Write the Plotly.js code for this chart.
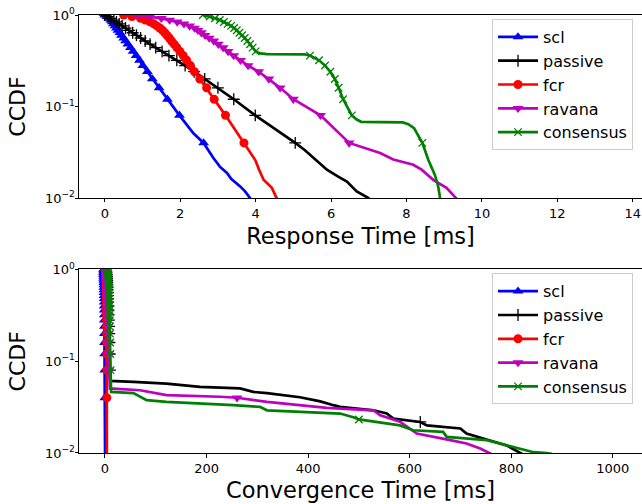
<!DOCTYPE html>
<html><head><meta charset="utf-8">
<script src="https://cdn.plot.ly/plotly-3.0.1.min.js"></script>
<style>html,body{margin:0;padding:0;background:#fff}#chart{width:642px;height:504px}</style>
</head><body><div id="chart"></div>
<script>
// ---------- labels / ticks ----------
const seriesNames = ['scl', 'passive', 'fcr', 'ravana', 'consensus'];
const yTickVals = [0.01, 0.1, 1];
const yTickText = ['10<sup>−2</sup>', '10<sup>−1</sup>', '10<sup>0</sup>'];
const yMinorTickVals = [0.02,0.03,0.04,0.05,0.06,0.07,0.08,0.09,0.2,0.3,0.4,0.5,0.6,0.7,0.8,0.9];
const rtTickVals = [0, 2, 4, 6, 8, 10, 12, 14];
const ctTickVals = [0, 200, 400, 600, 800, 1000];
const rtTitle = 'Response Time [ms]';
const ctTitle = 'Convergence Time [ms]';
const yTitle = 'CCDF';

// ---------- Response time (top) ----------
const rtSclT = [0.00,0.06,0.11,0.16,0.20,0.23,0.27,0.31,0.35,0.40,0.44,0.50,0.55,0.61,0.68,0.75,0.83,0.92,1.01,1.13,1.26,1.44,1.66,1.98,2.35,2.62,2.88,3.05,3.24,3.35,3.59,3.72,3.85,3.88];
const rtSclP = [1,0.96,0.92,0.88,0.84,0.80,0.76,0.72,0.68,0.64,0.60,0.56,0.52,0.48,0.44,0.40,0.36,0.32,0.28,0.24,0.20,0.16,0.12,0.08,0.051,0.04,0.0274,0.022,0.0188,0.0162,0.0134,0.0118,0.0100,0.0095];

const rtPassiveT = [0.00,0.08,0.16,0.24,0.31,0.38,0.46,0.55,0.64,0.74,0.84,0.95,1.07,1.20,1.35,1.52,1.70,1.91,2.13,2.37,2.65,3.00,3.42,3.99,4.56,5.05,5.30,5.53,5.70,5.89,6.20,6.42,6.68,6.85,6.99,7.02];
const rtPassiveP = [1,0.96,0.92,0.88,0.84,0.80,0.76,0.72,0.68,0.64,0.60,0.56,0.52,0.48,0.44,0.40,0.36,0.32,0.28,0.24,0.20,0.16,0.12,0.08,0.0557,0.04,0.0335,0.0274,0.024,0.0204,0.017,0.0151,0.0118,0.0108,0.0100,0.0095];

const rtFcrT = [0.50,0.72,0.95,1.08,1.20,1.30,1.38,1.46,1.53,1.59,1.65,1.71,1.77,1.84,1.91,1.99,2.08,2.17,2.27,2.38,2.52,2.70,2.90,3.20,3.69,3.99,4.10,4.21,4.43,4.56,4.58];
const rtFcrP = [1,0.96,0.92,0.88,0.84,0.80,0.76,0.72,0.68,0.64,0.60,0.56,0.52,0.48,0.44,0.40,0.36,0.32,0.28,0.24,0.20,0.16,0.12,0.08,0.04,0.026,0.02,0.0158,0.0129,0.0100,0.0095];

const rtRavanaT = [0.85,1.20,1.50,1.72,1.92,2.10,2.25,2.38,2.47,2.56,2.66,2.77,2.89,3.01,3.14,3.27,3.42,3.60,3.80,4.08,4.35,4.65,5.00,5.72,6.48,6.77,7.30,7.65,7.83,8.18,8.40,8.71,9.06,9.33,9.36];
const rtRavanaP = [1,0.96,0.92,0.88,0.84,0.80,0.76,0.72,0.68,0.64,0.60,0.56,0.52,0.48,0.44,0.40,0.36,0.32,0.28,0.24,0.20,0.16,0.12,0.08,0.04,0.0366,0.031,0.0263,0.0251,0.0231,0.0204,0.0158,0.0129,0.0100,0.0095];

const rtConsensusT = [2.60,2.78,2.92,3.05,3.16,3.26,3.35,3.43,3.50,3.57,3.64,3.71,3.78,3.85,3.92,4.00,4.12,4.30,5.30,5.44,5.68,5.84,5.98,6.10,6.20,6.32,6.55,6.68,6.80,7.90,8.05,8.20,8.42,8.58,8.75,8.84,8.89,8.90];
const rtConsensusP = [1,0.96,0.92,0.88,0.84,0.80,0.76,0.72,0.68,0.64,0.60,0.56,0.52,0.48,0.44,0.40,0.38,0.373,0.372,0.36,0.32,0.28,0.24,0.20,0.16,0.12,0.08,0.072,0.068,0.067,0.064,0.058,0.04,0.026,0.018,0.0134,0.0100,0.0095];

// ---------- Convergence time (bottom) ----------
const ctSclT = [-3.0,-2.9,-2.9,-2.8,-2.7,-2.6,-2.5,-2.4,-2.3,-2.2,-2.1,-2.0,-1.9,-1.8,-1.7,-1.6,-1.5,-1.4,-1.3,-1.2,-1.1,-1.0,-0.8,-0.6,-0.3,0.0,0.2];
const ctSclP = [1,0.96,0.92,0.88,0.84,0.80,0.76,0.72,0.68,0.64,0.60,0.56,0.52,0.48,0.44,0.40,0.36,0.32,0.28,0.24,0.20,0.16,0.12,0.08,0.04,0.02,0.008];

const ctPassiveT = [2.0,2.6,3.1,3.5,3.8,4.1,4.4,4.6,4.9,5.1,5.4,5.6,5.9,6.1,6.4,6.7,7.0,7.3,7.6,8.0,8.4,8.8,9.3,9.8,10.5,56,121,187,266,292,319,384,424,450,463,529,555,568,621,634,700,712,791,818,830];
const ctPassiveP = [1,0.96,0.92,0.88,0.84,0.80,0.76,0.72,0.68,0.64,0.60,0.56,0.52,0.48,0.44,0.40,0.36,0.32,0.28,0.24,0.20,0.16,0.12,0.08,0.061,0.0596,0.057,0.0525,0.0505,0.0463,0.045,0.0405,0.0365,0.0332,0.0318,0.0292,0.027,0.0237,0.0218,0.0200,0.0185,0.0163,0.0121,0.0100,0.0092];
const ctPassiveExtraMarkT = [621];

const ctFcrT = [1.2,1.4,1.5,1.6,1.7,1.8,1.9,2.0,2.1,2.2,2.2,2.3,2.4,2.5,2.6,2.7,2.8,2.9,3.0,3.1,3.2,3.3,3.4,3.5,3.6,3.7,3.8];
const ctFcrP = [1,0.96,0.92,0.88,0.84,0.80,0.76,0.72,0.68,0.64,0.60,0.56,0.52,0.48,0.44,0.40,0.36,0.32,0.28,0.24,0.20,0.16,0.12,0.08,0.04,0.02,0.008];

const ctRavanaT = [1.0,1.5,2.0,2.3,2.6,2.9,3.1,3.3,3.5,3.7,3.9,4.1,4.3,4.5,4.7,4.9,5.1,5.3,5.6,5.9,6.2,6.6,7.0,7.6,9.5,69,121,227,260,319,384,437,529,542,581,614,680,712,739,759,770];
const ctRavanaP = [1,0.96,0.92,0.88,0.84,0.80,0.76,0.72,0.68,0.64,0.60,0.56,0.52,0.48,0.44,0.40,0.36,0.32,0.28,0.24,0.20,0.16,0.12,0.08,0.0505,0.0483,0.0427,0.041,0.04,0.036,0.0332,0.031,0.0292,0.0258,0.0219,0.0163,0.0138,0.0127,0.0112,0.0100,0.0092];

const ctConsensusT = [4.0,5.0,5.6,6.0,6.3,6.6,6.9,7.1,7.3,7.5,7.7,7.9,8.1,8.3,8.5,8.7,8.9,9.1,9.3,9.5,9.8,10.1,10.5,11.0,12,56,82,121,253,305,319,424,463,489,500,581,607,666,673,752,791,844,870,880];
const ctConsensusP = [1,0.96,0.92,0.88,0.84,0.80,0.76,0.72,0.68,0.64,0.60,0.56,0.52,0.48,0.44,0.40,0.36,0.32,0.28,0.24,0.20,0.16,0.12,0.08,0.0463,0.045,0.0376,0.036,0.0332,0.0318,0.0292,0.0273,0.0269,0.0245,0.0232,0.020,0.0177,0.017,0.015,0.0138,0.0121,0.0102,0.0100,0.0098];
const ctConsensusExtraMarkT = [500];

// ---------- styles ----------
const colors = ['#0000ff', '#000000', '#ff0000', '#bf00bf', '#008000'];
const symbols = ['triangle-up', 'cross-thin', 'circle', 'triangle-down', 'x-thin'];
const msizes = [9.5, 8.5, 9, 9.5, 7.5];
const mlines = [0, 1.3, 0, 0, 1.3];

const rtSeries = [[rtSclT, rtSclP, []], [rtPassiveT, rtPassiveP, []], [rtFcrT, rtFcrP, []], [rtRavanaT, rtRavanaP, []], [rtConsensusT, rtConsensusP, []]];
const ctSeries = [[ctSclT, ctSclP, []], [ctPassiveT, ctPassiveP, ctPassiveExtraMarkT], [ctFcrT, ctFcrP, []], [ctRavanaT, ctRavanaP, []], [ctConsensusT, ctConsensusP, ctConsensusExtraMarkT]];

// markers sit on every 4% step of the CCDF (like markevery), plus extra tail marks
function isMark(p, t, extra) {
  const k = p * 25;
  return (p > 0.039 && Math.abs(k - Math.round(k)) < 1e-6) || extra.indexOf(t) >= 0;
}

const traces = [];
function addPanel(series, xa, ya, legendId, grpPrefix) {
  series.forEach((s, i) => {
    const [T, P, extra] = s;
    traces.push({x: T, y: P, xaxis: xa, yaxis: ya, type: 'scatter', mode: 'lines', showlegend: false,
      line: {color: colors[i], width: 2.7}, hoverinfo: 'skip'});
    const mx = [], my = [];
    T.forEach((t, j) => { if (isMark(P[j], t, extra)) { mx.push(t); my.push(P[j]); } });
    traces.push({x: mx, y: my, xaxis: xa, yaxis: ya, type: 'scatter', mode: 'markers', showlegend: false,
      marker: {symbol: symbols[i], size: msizes[i], color: colors[i], line: {color: colors[i], width: mlines[i]}}, hoverinfo: 'skip'});
  });
  series.forEach((s, i) => {
    traces.push({x: [null], y: [null], xaxis: xa, yaxis: ya, type: 'scatter', mode: 'lines+markers',
      name: seriesNames[i], legend: legendId, legendgroup: grpPrefix + i,
      line: {color: colors[i], width: 2.7},
      marker: {symbol: symbols[i], size: msizes[i], color: colors[i], line: {color: colors[i], width: mlines[i]}}});
  });
}
addPanel(rtSeries, 'x', 'y', 'legend', 'rt');
addPanel(ctSeries, 'x2', 'y2', 'legend2', 'ct');

const axisCommon = {showline: true, mirror: true, linecolor: '#000', linewidth: 1, showgrid: false, zeroline: false,
  ticks: 'outside', ticklen: 3.5, tickwidth: 1, tickcolor: '#000', tickfont: {size: 13, color: '#000'}};
const yCommon = Object.assign({}, axisCommon, {type: 'log', range: [-2, 0], tickmode: 'array', tickvals: yTickVals, ticktext: yTickText,
  ticklabelstandoff: -3, title: {text: yTitle, font: {size: 22, color: '#000'}, standoff: 13}});
const yMinor = {type: 'log', range: [-2, 0], tickmode: 'array', tickvals: yMinorTickVals, showticklabels: false,
  ticks: 'outside', ticklen: 2, tickwidth: 0.8, tickcolor: '#000', showline: false, showgrid: false, zeroline: false, side: 'left'};
const legendCommon = {xanchor: 'left', yanchor: 'top', x: 0.7336, bgcolor: 'rgba(255,255,255,0.8)', bordercolor: '#cccccc',
  borderwidth: 1, font: {size: 16, color: '#000'}, traceorder: 'grouped', tracegroupgap: 0, itemwidth: 40};

const layout = {
  width: 642, height: 504, margin: {l: 79, r: 0, t: 15, b: 51},
  paper_bgcolor: '#fff', plot_bgcolor: '#fff',
  font: {family: 'DejaVu Sans, sans-serif', color: '#000', size: 13},
  showlegend: true,
  xaxis: Object.assign({}, axisCommon, {domain: [0, 1], anchor: 'y', range: [-0.684, 14.245], tickmode: 'array', tickvals: rtTickVals,
    title: {text: rtTitle, font: {size: 22.5, color: '#000'}, standoff: 8}}),
  yaxis: Object.assign({}, yCommon, {domain: [0.5822, 1], anchor: 'x'}),
  yaxis3: Object.assign({}, yMinor, {overlaying: 'y', anchor: 'x'}),
  xaxis2: Object.assign({}, axisCommon, {domain: [0, 1], anchor: 'y2', range: [-51.2, 1057.7], tickmode: 'array', tickvals: ctTickVals,
    title: {text: ctTitle, font: {size: 22.5, color: '#000'}, standoff: 7}}),
  yaxis2: Object.assign({}, yCommon, {domain: [0, 0.419], anchor: 'x2'}),
  yaxis4: Object.assign({}, yMinor, {overlaying: 'y2', anchor: 'x2'}),
  legend: Object.assign({}, legendCommon, {y: 0.9909}),
  legend2: Object.assign({}, legendCommon, {y: 0.4103})
};

Plotly.newPlot('chart', traces, layout, {displayModeBar: false, staticPlot: true});
</script>
</body></html>
